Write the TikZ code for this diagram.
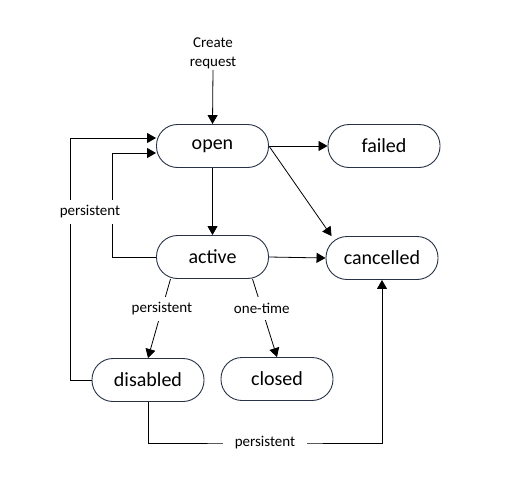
\documentclass[tikz,border=0pt]{standalone}
\usepackage{fontspec}
\setmainfont{Carlito}
\usetikzlibrary{arrows.meta}
\definecolor{boxline}{RGB}{40,50,70}
\begin{document}
\begin{tikzpicture}[x=1pt,y=-1pt,
  state/.style={draw=boxline, line width=0.9pt, rounded corners=21pt,
    minimum width=112pt, minimum height=43pt, inner sep=0pt,
    font=\fontsize{20}{24}\selectfont},
  lbl/.style={fill=white, inner xsep=12pt, inner ysep=6pt, font=\fontsize{15}{18}\selectfont},
  arr/.style={line width=0.8pt, -{Triangle[width=10pt,length=9pt]}}]
\useasboundingbox (0,0) rectangle (528,490);
\node[state] (open) at (212.5,146) {open};
\node[state] (failed) at (384,146) {failed};
\node[state] (active) at (212.5,257) {active};
\node[state] (cancelled) at (382,258) {cancelled};
\node[state] (disabled) at (148,380) {disabled};
\node[state] (closed) at (277,379) {closed};
\node[align=center, font=\fontsize{15}{19}\selectfont, inner sep=1pt] (create) at (213,53) {Create\\request};
\coordinate (dc) at (265,443);

\draw[arr] (create.south) -- (open.north);
\draw[arr] (open.east) -- (failed.west);
\draw[arr] (open.east) -- ([xshift=6pt]cancelled.north west);
\draw[arr] (open.south) -- (active.north);
\draw[arr] (active.east) -- (cancelled.west);
\draw[arr] ([xshift=-42pt]active.south) -- (disabled.north)
  node[lbl, pos=0.38] (lp1) {persistent};
\draw[arr] ([xshift=40pt]active.south) -- (closed.north)
  node[lbl, pos=0.38] (lo) {one-time};
\draw[arr] (disabled.south) |- (dc) -| (cancelled.south);
\node[lbl] (lp3) at (dc) {persistent};
\draw[arr] (disabled.west) -- ++(-21,0) |- ([yshift=8pt]open.west);
\draw[arr] (active.west) -- ++(-44,0) |- ([yshift=-7pt]open.west);
\node[lbl, inner xsep=2pt] (lp2) at (90,212) {persistent};
\end{tikzpicture}
\end{document}
